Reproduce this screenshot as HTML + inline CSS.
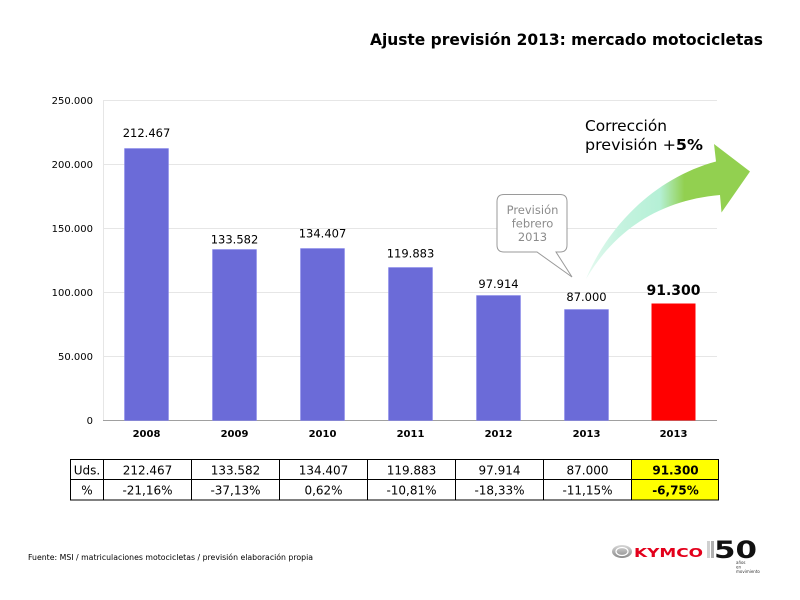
<!DOCTYPE html>
<html><head><meta charset="utf-8"><style>
html,body{margin:0;padding:0;background:#fff;}
svg{display:block;}
text{font-family:"DejaVu Sans","Liberation Sans",sans-serif;}
</style></head><body>
<svg width="800" height="600" viewBox="0 0 800 600" xmlns="http://www.w3.org/2000/svg">
<defs>
<linearGradient id="ag" x1="586" y1="0" x2="750" y2="0" gradientUnits="userSpaceOnUse">
<stop offset="0" stop-color="#e6faf0"/>
<stop offset="0.2" stop-color="#c6f3e0"/>
<stop offset="0.45" stop-color="#b5f0d6"/>
<stop offset="0.6" stop-color="#92d050"/>
<stop offset="1" stop-color="#92d050"/>
</linearGradient>
<linearGradient id="kg" x1="0" y1="0" x2="0" y2="1">
<stop offset="0" stop-color="#d8d8d8"/><stop offset="1" stop-color="#8a8a8a"/>
</linearGradient>
</defs>
<!-- title -->
<text x="370" y="45" font-size="16" font-weight="bold" fill="#000" textLength="393" lengthAdjust="spacingAndGlyphs">Ajuste previsión 2013: mercado motocicletas</text>
<!-- gridlines -->
<g stroke="#e6e6e6" stroke-width="1">
<line x1="103" y1="100.5" x2="717" y2="100.5"/>
<line x1="103" y1="164.5" x2="717" y2="164.5"/>
<line x1="103" y1="228.5" x2="717" y2="228.5"/>
<line x1="103" y1="292.5" x2="717" y2="292.5"/>
<line x1="103" y1="356.5" x2="717" y2="356.5"/>
<line x1="103.5" y1="100" x2="103.5" y2="420"/>
</g>
<line x1="103" y1="420.5" x2="717" y2="420.5" stroke="#a0a0a0" stroke-width="1"/>
<!-- y labels -->
<g font-size="10" fill="#000" text-anchor="end">
<text x="93" y="104">250.000</text>
<text x="93" y="168">200.000</text>
<text x="93" y="232">150.000</text>
<text x="93" y="296">100.000</text>
<text x="93" y="360">50.000</text>
<text x="93" y="424">0</text>
</g>
<!-- bars -->
<g fill="#6b6bd8" stroke="#8888ee" stroke-width="0.5">
<rect x="124.5" y="148.5" width="44" height="272"/>
<rect x="212.5" y="249.5" width="44" height="171"/>
<rect x="300.5" y="248.5" width="44" height="172"/>
<rect x="388.5" y="267.5" width="44" height="153"/>
<rect x="476.5" y="295.5" width="44" height="125"/>
<rect x="564.5" y="309.5" width="44" height="111"/>
</g>
<rect x="651.5" y="303.5" width="44" height="117" fill="#ff0000"/>
<!-- data labels -->
<g font-size="11.5" fill="#000" text-anchor="middle">
<text x="146.5" y="137">212.467</text>
<text x="234.5" y="243.5">133.582</text>
<text x="322.5" y="237.5">134.407</text>
<text x="410.5" y="257.5">119.883</text>
<text x="498.5" y="288">97.914</text>
<text x="586.5" y="301">87.000</text>
</g>
<text x="673.5" y="295" font-size="14" font-weight="bold" text-anchor="middle" fill="#000">91.300</text>
<!-- year labels -->
<g font-size="10" font-weight="bold" fill="#000" text-anchor="middle">
<text x="146.5" y="437">2008</text>
<text x="234.5" y="437">2009</text>
<text x="322.5" y="437">2010</text>
<text x="410.5" y="437">2011</text>
<text x="498.5" y="437">2012</text>
<text x="586.5" y="437">2013</text>
<text x="673.5" y="437">2013</text>
</g>
<!-- callout -->
<path d="M504,194.5 H560 Q567,194.5 567,201.5 V245 Q567,252 560,252 H556 L572,277 L537,252 H504 Q497,252 497,245 V201.5 Q497,194.5 504,194.5 Z" fill="#fff" stroke="#9a9a9a" stroke-width="1"/>
<g font-size="11.5" fill="#8c8c8c" text-anchor="middle">
<text x="532.5" y="214">Previsión</text>
<text x="532.5" y="227.5">febrero</text>
<text x="532.5" y="241">2013</text>
</g>
<!-- arrow -->
<path d="M586,279 C608,226 655,178 716,161.5 L714,144 L750,171.5 L721.5,212.5 L720,195 C662,200 616,228 586,279 Z" fill="url(#ag)"/>
<!-- correction text -->
<text x="585" y="131" font-size="15.5" fill="#000" textLength="82" lengthAdjust="spacingAndGlyphs">Corrección</text>
<text x="585" y="150" font-size="15.5" fill="#000" textLength="118" lengthAdjust="spacingAndGlyphs">previsión +<tspan font-weight="bold">5%</tspan></text>
<!-- table -->
<rect x="631" y="460" width="88" height="40" fill="#ffff00"/>
<g stroke="#000" stroke-width="1" fill="none">
<rect x="70.5" y="459.5" width="648" height="40.5"/>
<line x1="70.5" y1="479.5" x2="718.5" y2="479.5"/>
<line x1="103.5" y1="459.5" x2="103.5" y2="500"/>
<line x1="191.5" y1="459.5" x2="191.5" y2="500"/>
<line x1="279.5" y1="459.5" x2="279.5" y2="500"/>
<line x1="367.5" y1="459.5" x2="367.5" y2="500"/>
<line x1="455.5" y1="459.5" x2="455.5" y2="500"/>
<line x1="543.5" y1="459.5" x2="543.5" y2="500"/>
<line x1="631.5" y1="459.5" x2="631.5" y2="500"/>
</g>
<g font-size="12" fill="#000" text-anchor="middle">
<text x="87" y="474.5">Uds.</text>
<text x="147.5" y="474.5">212.467</text>
<text x="235.5" y="474.5">133.582</text>
<text x="323.5" y="474.5">134.407</text>
<text x="411.5" y="474.5">119.883</text>
<text x="499.5" y="474.5">97.914</text>
<text x="587.5" y="474.5">87.000</text>
<text x="675.5" y="474.5" font-weight="bold">91.300</text>
<text x="87" y="494.5">%</text>
<text x="147.5" y="494.5">-21,16%</text>
<text x="235.5" y="494.5">-37,13%</text>
<text x="323.5" y="494.5">0,62%</text>
<text x="411.5" y="494.5">-10,81%</text>
<text x="499.5" y="494.5">-18,33%</text>
<text x="587.5" y="494.5">-11,15%</text>
<text x="675.5" y="494.5" font-weight="bold">-6,75%</text>
</g>
<!-- footer -->
<text x="28" y="560" font-size="8" fill="#000" textLength="285" lengthAdjust="spacingAndGlyphs">Fuente: MSI / matriculaciones motocicletas / previsión elaboración propia</text>
<!-- logo -->
<ellipse cx="622" cy="551.5" rx="10" ry="6.5" fill="url(#kg)"/>
<ellipse cx="622" cy="551.5" rx="6" ry="4" fill="none" stroke="#fff" stroke-width="1.2"/>
<text x="634" y="557" font-size="12.5" font-weight="bold" fill="#e3001b" font-family="Liberation Sans, sans-serif" textLength="69" lengthAdjust="spacingAndGlyphs">KYMCO</text>
<rect x="707" y="541" width="3" height="17" fill="#d0d0d0"/>
<rect x="711" y="541" width="3" height="17" fill="#b0b0b0"/>
<text x="714" y="558" font-size="24" font-weight="bold" fill="#111" font-family="Liberation Sans, sans-serif" textLength="43" lengthAdjust="spacingAndGlyphs">50</text>
<g font-size="4" fill="#333">
<text x="736" y="564">años</text>
<text x="736" y="568.5">en</text>
<text x="736" y="573">movimiento</text>
</g>
</svg>
</body></html>
